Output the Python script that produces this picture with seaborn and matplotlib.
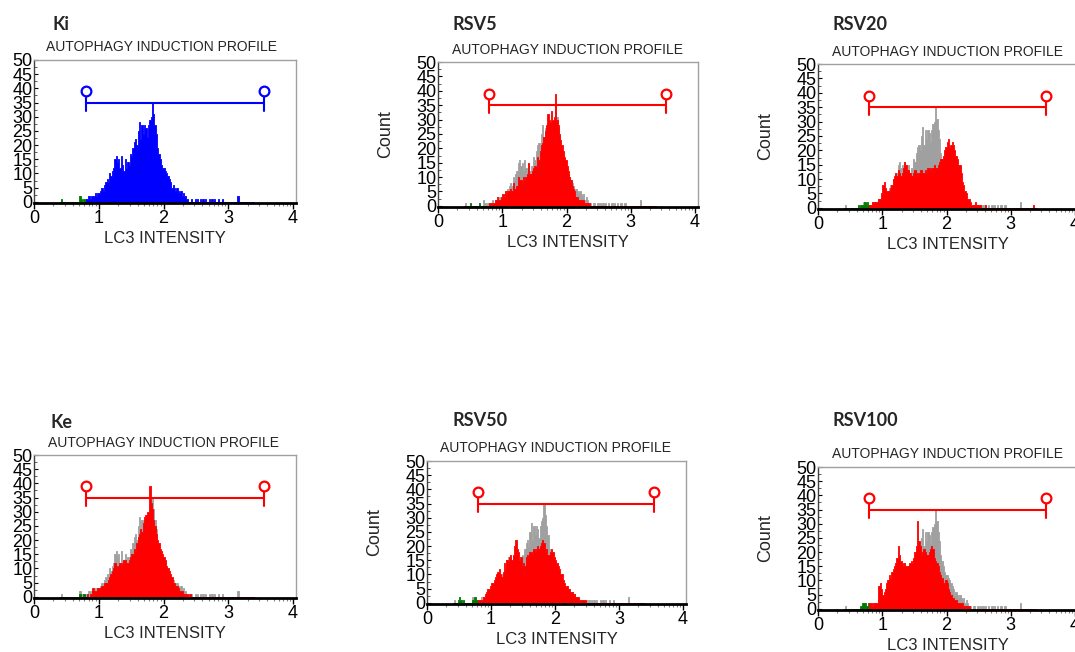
import numpy as np
import pandas as pd
import matplotlib
matplotlib.use("Agg")
import matplotlib.pyplot as plt
import seaborn as sns

# histogram bins: 0.02 wide, starting at 0.40 (LC3 intensity, log decades)
BIN_START = 0.40
BIN_STEP = 0.02

# control (Ki) counts, also shown in grey behind every treated sample
KI = [0, 1, 0, 0, 0, 0, 0, 0, 0, 0,
      0, 0, 0, 0, 0, 2, 1, 0, 1, 1,
      1, 1, 2, 1, 2, 2, 2, 3, 2, 3,
      3, 4, 5, 4, 6, 7, 8, 7, 10, 9,
      11, 12, 15, 16, 14, 15, 12, 16, 13, 11,
      15, 12, 14, 13, 17, 16, 19, 21, 22, 20,
      25, 28, 22, 27, 24, 27, 26, 23, 27, 29,
      30, 35, 31, 27, 24, 19, 17, 15, 13, 12,
      12, 11, 10, 9, 8, 7, 5, 6, 5, 4,
      5, 4, 3, 4, 2, 3, 2, 1, 1, 0,
      0, 1, 0, 0, 1, 0, 1, 0, 1, 0,
      1, 0, 1, 0, 0, 1, 0, 1, 0, 1,
      0, 0, 1, 0, 0, 1, 0, 0, 0, 0,
      0, 0, 0, 0, 0, 0, 0, 2, 0, 0,
      0, 0, 0, 0, 0, 0, 0, 0, 0, 0]

KE = [0, 0, 0, 0, 0, 0, 0, 0, 0, 0,
      0, 0, 0, 0, 0, 1, 0, 0, 1, 0,
      0, 1, 0, 1, 1, 3, 2, 2, 2, 3,
      3, 3, 4, 4, 5, 5, 5, 6, 7, 8,
      9, 10, 12, 11, 10, 11, 12, 11, 12, 13,
      13, 12, 12, 13, 14, 15, 15, 17, 16, 19,
      21, 22, 24, 23, 26, 28, 29, 30, 30, 39,
      33, 31, 27, 25, 22, 20, 19, 17, 16, 15,
      14, 13, 11, 10, 9, 8, 7, 5, 5, 4,
      4, 3, 2, 2, 2, 1, 1, 1, 1, 0,
      1, 0, 0, 0, 0, 0, 0, 0, 0, 0,
      0, 0, 0, 0, 0, 0, 0, 0, 0, 0,
      0, 0, 0, 0, 0, 0, 0, 0, 0, 0,
      0, 0, 0, 0, 0, 0, 0, 0, 0, 0,
      0, 0, 0, 0, 0, 0, 0, 0, 0, 0]

RSV5 = [0, 0, 0, 0, 0, 1, 0, 0, 0, 0,
        0, 0, 1, 0, 0, 0, 0, 0, 0, 0,
        1, 0, 1, 1, 2, 2, 3, 2, 2, 3,
        4, 3, 5, 4, 5, 5, 6, 5, 8, 6,
        6, 7, 10, 9, 9, 8, 10, 9, 10, 11,
        15, 11, 11, 12, 13, 14, 13, 17, 16, 19,
        21, 22, 24, 26, 28, 32, 30, 29, 33, 30,
        31, 39, 30, 28, 25, 23, 21, 19, 17, 16,
        14, 12, 10, 9, 7, 6, 5, 3, 3, 2,
        2, 2, 2, 2, 1, 1, 1, 1, 0, 0,
        0, 0, 0, 0, 0, 0, 0, 0, 0, 0,
        0, 0, 0, 0, 0, 0, 0, 0, 0, 0,
        0, 0, 0, 0, 0, 0, 0, 0, 0, 0,
        0, 0, 0, 0, 0, 0, 0, 0, 0, 0,
        0, 0, 0, 0, 0, 0, 0, 0, 0, 0]

RSV20 = [0, 0, 0, 0, 0, 0, 0, 0, 0, 0,
         0, 1, 0, 1, 1, 1, 2, 1, 2, 1,
         1, 1, 2, 2, 2, 2, 2, 3, 3, 5,
         8, 9, 7, 6, 6, 6, 7, 8, 10, 11,
         12, 11, 13, 12, 11, 12, 14, 16, 15, 13,
         13, 12, 11, 11, 12, 13, 12, 11, 12, 13,
         13, 12, 12, 13, 12, 14, 13, 14, 13, 14,
         15, 14, 14, 15, 16, 17, 17, 18, 20, 21,
         23, 24, 21, 22, 23, 22, 20, 18, 17, 15,
         15, 12, 9, 8, 6, 5, 3, 3, 2, 1,
         1, 1, 2, 1, 1, 1, 1, 0, 0, 0,
         1, 0, 0, 0, 0, 0, 0, 0, 0, 0,
         0, 0, 0, 0, 0, 0, 0, 0, 0, 0,
         0, 0, 0, 0, 0, 0, 0, 0, 0, 0,
         0, 0, 0, 0, 0, 0, 0, 1, 0, 0]

RSV50 = [0, 0, 0, 0, 1, 2, 1, 0, 1, 0,
         0, 0, 0, 0, 0, 1, 1, 2, 1, 1,
         1, 1, 1, 1, 2, 3, 4, 5, 5, 6,
         7, 7, 8, 9, 10, 11, 12, 10, 9, 11,
         14, 12, 15, 14, 16, 17, 15, 17, 20, 22,
         19, 18, 15, 16, 13, 14, 13, 16, 17, 16,
         18, 17, 18, 19, 18, 19, 20, 19, 20, 21,
         22, 21, 18, 19, 17, 17, 18, 19, 18, 16,
         15, 14, 13, 12, 10, 10, 8, 7, 6, 6,
         5, 5, 4, 4, 3, 3, 2, 2, 2, 1,
         1, 1, 1, 1, 0, 0, 0, 0, 0, 0,
         0, 0, 0, 0, 0, 0, 0, 0, 0, 0,
         0, 0, 0, 0, 0, 0, 0, 0, 0, 0,
         0, 0, 0, 0, 0, 0, 0, 0, 0, 0,
         0, 0, 0, 0, 0, 0, 0, 0, 0, 0]

RSV100 = [0, 0, 0, 0, 0, 0, 0, 0, 0, 0,
          0, 0, 0, 1, 2, 2, 2, 1, 1, 2,
          2, 2, 1, 2, 2, 2, 2, 8, 9, 7,
          5, 6, 7, 9, 10, 12, 11, 13, 14, 15,
          16, 18, 22, 19, 17, 16, 15, 16, 15, 15,
          15, 16, 17, 16, 18, 20, 22, 31, 24, 22,
          19, 20, 21, 20, 19, 19, 20, 21, 22, 21,
          18, 17, 16, 15, 13, 12, 11, 9, 9, 10,
          9, 7, 6, 5, 4, 4, 3, 3, 2, 2,
          2, 2, 2, 1, 1, 1, 1, 1, 0, 0,
          0, 0, 0, 0, 0, 0, 0, 0, 0, 0,
          0, 0, 0, 0, 0, 0, 0, 0, 0, 0,
          0, 0, 0, 0, 0, 0, 0, 0, 0, 0,
          0, 0, 0, 0, 0, 0, 0, 0, 0, 0,
          0, 0, 0, 0, 0, 0, 0, 0, 0, 0]

PANEL_NAMES = ["Ki", "RSV5", "RSV20", "Ke", "RSV50", "RSV100"]
PANEL_DATA = [KI, RSV5, RSV20, KE, RSV50, RSV100]

GATE_LOW, GATE_HIGH, GATE_Y = 0.80, 3.55, 35

# layout in pixels of the 1075x652 picture: axes left, top, right, bottom
BOXES = [(34, 60, 296, 203), (438, 62, 698, 207), (818, 64, 1078, 209),
         (34, 455, 296, 598), (427, 461, 686, 604), (818, 467, 1078, 610)]
TITLE_POS = [(52, 25), (452, 25), (832, 25), (51, 422), (452, 421), (832, 421)]
SUB_POS = [(162, 47), (567, 50), (947, 52), (164, 443), (556, 448), (947, 454)]

W, H = 1075, 652

sns.set_style("white")
plt.rcParams["font.family"] = ["Liberation Sans", "DejaVu Sans"]

RED = "#ff0000"
BLUE = "#0000ff"
GREEN = "#007a00"
GREY = "#a0a0a0"


def hist_part(ax, centers, counts, edges, color):
    df = pd.DataFrame({"lc3": centers, "n": counts})
    sns.histplot(data=df, x="lc3", weights="n", bins=list(edges), element="step",
                 fill=True, color=color, alpha=1, linewidth=0.6, ax=ax)


def draw_hist(ax, counts, color, low_color):
    counts = np.asarray(counts, dtype=float)
    edges = BIN_START + BIN_STEP * np.arange(len(counts) + 1)
    centers = edges[:-1] + BIN_STEP / 2
    if low_color is None:
        hist_part(ax, centers, counts, edges, color)
        return
    n_low = int(np.sum(centers < GATE_LOW))
    hist_part(ax, centers[:n_low], counts[:n_low], edges[:n_low + 1], low_color)
    hist_part(ax, centers[n_low:], counts[n_low:], edges[n_low:], color)


fig = plt.figure(figsize=(W / 100, H / 100), dpi=100)

for i, (name, data) in enumerate(zip(PANEL_NAMES, PANEL_DATA)):
    l, t, r, b = BOXES[i]
    ax = fig.add_axes([l / W, 1 - b / H, (r - l) / W, (b - t) / H])
    color = BLUE if name == "Ki" else RED
    if name != "Ki":
        draw_hist(ax, KI, GREY, None)
    draw_hist(ax, data, color, GREEN)

    # gate marker
    ax.plot([GATE_LOW, GATE_HIGH], [GATE_Y, GATE_Y], color=color, lw=1.5)
    for gx in (GATE_LOW, GATE_HIGH):
        ax.plot([gx, gx], [32.2, 37.2], color=color, lw=1.5)
        ax.plot([gx], [38.9], marker="o", ms=7, mfc="white", mec=color, mew=1.6)

    span = r - l
    ax.set_xlim(0, 4 * span / (span - 3))
    ax.set_ylim(-0.4, 50)
    ax.set_xticks([0, 1, 2, 3, 4])
    minor = [d + np.log10(k) for d in range(4) for k in range(2, 10)]
    ax.set_xticks(minor, minor=True)
    ax.set_yticks(range(0, 51, 5))
    ax.set_yticks(np.arange(2.5, 50, 5), minor=True)
    ax.tick_params(axis="x", which="major", direction="out", length=4, width=1,
                   labelsize=13, pad=1, colors="black")
    ax.tick_params(axis="x", which="minor", direction="out", length=2.5, width=0.8,
                   color="#808080")
    ax.tick_params(axis="y", which="major", direction="in", length=3, width=0.8,
                   labelsize=13, pad=1, colors="black")
    ax.tick_params(axis="y", which="minor", direction="in", length=2, width=0.6,
                   color="#404040")
    ax.tick_params(bottom=True, left=True, which="both")
    for side in ("top", "right"):
        ax.spines[side].set_color(GREY)
        ax.spines[side].set_linewidth(1)
    ax.spines["left"].set_color("#404040")
    ax.spines["left"].set_linewidth(1)
    ax.spines["bottom"].set_color("black")
    ax.spines["bottom"].set_linewidth(2)

    ax.set_xlabel("LC3 INTENSITY", fontsize=12, labelpad=3)
    if name in ("Ki", "Ke"):
        ax.set_ylabel("")
    else:
        ax.set_ylabel("Count", fontsize=13)
        ax.yaxis.set_label_coords(-44 / span, 0.5)

    tx, ty = TITLE_POS[i]
    fig.text(tx / W, 1 - ty / H, name, fontsize=13, fontweight="bold",
             family=["Lato", "DejaVu Sans"], ha="left", va="center")
    sx, sy = SUB_POS[i]
    fig.text(sx / W, 1 - sy / H, "AUTOPHAGY INDUCTION PROFILE", fontsize=10,
             ha="center", va="center")

fig.savefig("out.png", dpi=100)
